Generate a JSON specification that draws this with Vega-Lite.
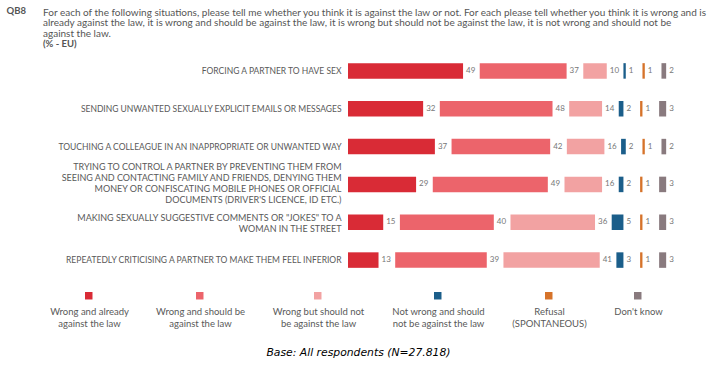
{
  "$schema": "https://vega.github.io/schema/vega-lite/v6.json",
  "width": 371,
  "height": 227,
  "autosize": {"type": "none"},
  "padding": {"left": 348, "top": 52, "right": 0, "bottom": 94},
  "background": "white",
  "config": {
    "font": "Lato",
    "view": {"stroke": null},
    "title": {"font": "Lato"}
  },
  "title": {
    "text": [
      "For each of the following situations, please tell me whether you think it is against the law or not. For each please tell whether you think it is wrong and is",
      "already against the law, it is wrong and should be against the law, it is wrong but should not be against the law, it is not wrong and should not be",
      "against the law."
    ],
    "subtitle": "(% - EU)",
    "anchor": "start",
    "frame": "group",
    "dx": -305,
    "dy": 49,
    "offset": 6,
    "fontSize": 10,
    "fontWeight": "normal",
    "color": "#555555",
    "lineHeight": 10.5,
    "limit": 700,
    "subtitleFontSize": 9.5,
    "subtitleFontWeight": "bold",
    "subtitleColor": "#555555",
    "subtitlePadding": 0
  },
  "data": {
    "values": [
      {"item": "FORCING A PARTNER TO HAVE SEX", "category": "Wrong and already against the law", "value": 49},
      {"item": "FORCING A PARTNER TO HAVE SEX", "category": "Wrong and should be against the law", "value": 37},
      {"item": "FORCING A PARTNER TO HAVE SEX", "category": "Wrong but should not be against the law", "value": 10},
      {"item": "FORCING A PARTNER TO HAVE SEX", "category": "Not wrong and should not be against the law", "value": 1},
      {"item": "FORCING A PARTNER TO HAVE SEX", "category": "Refusal (SPONTANEOUS)", "value": 1},
      {"item": "FORCING A PARTNER TO HAVE SEX", "category": "Don't know", "value": 2},
      {"item": "SENDING UNWANTED SEXUALLY EXPLICIT EMAILS OR MESSAGES", "category": "Wrong and already against the law", "value": 32},
      {"item": "SENDING UNWANTED SEXUALLY EXPLICIT EMAILS OR MESSAGES", "category": "Wrong and should be against the law", "value": 48},
      {"item": "SENDING UNWANTED SEXUALLY EXPLICIT EMAILS OR MESSAGES", "category": "Wrong but should not be against the law", "value": 14},
      {"item": "SENDING UNWANTED SEXUALLY EXPLICIT EMAILS OR MESSAGES", "category": "Not wrong and should not be against the law", "value": 2},
      {"item": "SENDING UNWANTED SEXUALLY EXPLICIT EMAILS OR MESSAGES", "category": "Refusal (SPONTANEOUS)", "value": 1},
      {"item": "SENDING UNWANTED SEXUALLY EXPLICIT EMAILS OR MESSAGES", "category": "Don't know", "value": 3},
      {"item": "TOUCHING A COLLEAGUE IN AN INAPPROPRIATE OR UNWANTED WAY", "category": "Wrong and already against the law", "value": 37},
      {"item": "TOUCHING A COLLEAGUE IN AN INAPPROPRIATE OR UNWANTED WAY", "category": "Wrong and should be against the law", "value": 42},
      {"item": "TOUCHING A COLLEAGUE IN AN INAPPROPRIATE OR UNWANTED WAY", "category": "Wrong but should not be against the law", "value": 16},
      {"item": "TOUCHING A COLLEAGUE IN AN INAPPROPRIATE OR UNWANTED WAY", "category": "Not wrong and should not be against the law", "value": 2},
      {"item": "TOUCHING A COLLEAGUE IN AN INAPPROPRIATE OR UNWANTED WAY", "category": "Refusal (SPONTANEOUS)", "value": 1},
      {"item": "TOUCHING A COLLEAGUE IN AN INAPPROPRIATE OR UNWANTED WAY", "category": "Don't know", "value": 2},
      {"item": "TRYING TO CONTROL A PARTNER BY PREVENTING THEM FROM\nSEEING AND CONTACTING FAMILY AND FRIENDS, DENYING THEM\nMONEY OR CONFISCATING MOBILE PHONES OR OFFICIAL\nDOCUMENTS (DRIVER'S LICENCE, ID ETC.)", "category": "Wrong and already against the law", "value": 29},
      {"item": "TRYING TO CONTROL A PARTNER BY PREVENTING THEM FROM\nSEEING AND CONTACTING FAMILY AND FRIENDS, DENYING THEM\nMONEY OR CONFISCATING MOBILE PHONES OR OFFICIAL\nDOCUMENTS (DRIVER'S LICENCE, ID ETC.)", "category": "Wrong and should be against the law", "value": 49},
      {"item": "TRYING TO CONTROL A PARTNER BY PREVENTING THEM FROM\nSEEING AND CONTACTING FAMILY AND FRIENDS, DENYING THEM\nMONEY OR CONFISCATING MOBILE PHONES OR OFFICIAL\nDOCUMENTS (DRIVER'S LICENCE, ID ETC.)", "category": "Wrong but should not be against the law", "value": 16},
      {"item": "TRYING TO CONTROL A PARTNER BY PREVENTING THEM FROM\nSEEING AND CONTACTING FAMILY AND FRIENDS, DENYING THEM\nMONEY OR CONFISCATING MOBILE PHONES OR OFFICIAL\nDOCUMENTS (DRIVER'S LICENCE, ID ETC.)", "category": "Not wrong and should not be against the law", "value": 2},
      {"item": "TRYING TO CONTROL A PARTNER BY PREVENTING THEM FROM\nSEEING AND CONTACTING FAMILY AND FRIENDS, DENYING THEM\nMONEY OR CONFISCATING MOBILE PHONES OR OFFICIAL\nDOCUMENTS (DRIVER'S LICENCE, ID ETC.)", "category": "Refusal (SPONTANEOUS)", "value": 1},
      {"item": "TRYING TO CONTROL A PARTNER BY PREVENTING THEM FROM\nSEEING AND CONTACTING FAMILY AND FRIENDS, DENYING THEM\nMONEY OR CONFISCATING MOBILE PHONES OR OFFICIAL\nDOCUMENTS (DRIVER'S LICENCE, ID ETC.)", "category": "Don't know", "value": 3},
      {"item": "MAKING SEXUALLY SUGGESTIVE COMMENTS OR \"JOKES\" TO A\nWOMAN IN THE STREET", "category": "Wrong and already against the law", "value": 15},
      {"item": "MAKING SEXUALLY SUGGESTIVE COMMENTS OR \"JOKES\" TO A\nWOMAN IN THE STREET", "category": "Wrong and should be against the law", "value": 40},
      {"item": "MAKING SEXUALLY SUGGESTIVE COMMENTS OR \"JOKES\" TO A\nWOMAN IN THE STREET", "category": "Wrong but should not be against the law", "value": 36},
      {"item": "MAKING SEXUALLY SUGGESTIVE COMMENTS OR \"JOKES\" TO A\nWOMAN IN THE STREET", "category": "Not wrong and should not be against the law", "value": 5},
      {"item": "MAKING SEXUALLY SUGGESTIVE COMMENTS OR \"JOKES\" TO A\nWOMAN IN THE STREET", "category": "Refusal (SPONTANEOUS)", "value": 1},
      {"item": "MAKING SEXUALLY SUGGESTIVE COMMENTS OR \"JOKES\" TO A\nWOMAN IN THE STREET", "category": "Don't know", "value": 3},
      {"item": "REPEATEDLY CRITICISING A PARTNER TO MAKE THEM FEEL INFERIOR", "category": "Wrong and already against the law", "value": 13},
      {"item": "REPEATEDLY CRITICISING A PARTNER TO MAKE THEM FEEL INFERIOR", "category": "Wrong and should be against the law", "value": 39},
      {"item": "REPEATEDLY CRITICISING A PARTNER TO MAKE THEM FEEL INFERIOR", "category": "Wrong but should not be against the law", "value": 41},
      {"item": "REPEATEDLY CRITICISING A PARTNER TO MAKE THEM FEEL INFERIOR", "category": "Not wrong and should not be against the law", "value": 3},
      {"item": "REPEATEDLY CRITICISING A PARTNER TO MAKE THEM FEEL INFERIOR", "category": "Refusal (SPONTANEOUS)", "value": 1},
      {"item": "REPEATEDLY CRITICISING A PARTNER TO MAKE THEM FEEL INFERIOR", "category": "Don't know", "value": 3}
    ]
  },
  "transform": [
    {"calculate": "indexof(['Wrong and already against the law', 'Wrong and should be against the law', 'Wrong but should not be against the law', 'Not wrong and should not be against the law', 'Refusal (SPONTANEOUS)', \"Don't know\"], datum.category)", "as": "idx"},
    {"window": [{"op": "sum", "field": "value", "as": "cum"}], "groupby": ["item"], "sort": [{"field": "idx"}], "frame": [null, 0]},
    {"calculate": "datum.cum - datum.value + datum.idx * 7.1", "as": "x0"},
    {"calculate": "datum.cum + datum.idx * 7.1", "as": "x1"}
  ],
  "encoding": {
    "y": {
      "field": "item",
      "type": "nominal",
      "sort": null,
      "scale": {"paddingInner": 0.59, "paddingOuter": 0.295},
      "axis": {
        "title": "QB8",
        "titleAngle": 0,
        "titleAlign": "left",
        "titleBaseline": "middle",
        "titleX": -342,
        "titleY": -42,
        "titleFontSize": 9.5,
        "titleFontWeight": "bold",
        "titleColor": "#555555",
        "domain": false,
        "ticks": false,
        "grid": false,
        "labelPadding": 7,
        "labelFontSize": {"condition": {"test": "indexof(datum.value, '\\n') >= 0", "value": 9}, "value": 8.5},
        "labelOffset": {"condition": [{"test": "indexof(datum.value, 'TRYING') === 0", "value": -17}, {"test": "indexof(datum.value, 'MAKING') === 0", "value": -4}], "value": 0},
        "labelColor": "#595959",
        "labelLimit": 340,
        "labelLineHeight": 11,
        "labelExpr": "split(datum.label, '\\n')"
      }
    }
  },
  "layer": [
    {
      "mark": {"type": "bar"},
      "encoding": {
        "x": {
          "field": "x0",
          "type": "quantitative",
          "scale": {"domain": [0, 158], "nice": false, "zero": false},
          "axis": {
            "title": "Base: All respondents (N=27.818)",
            "titleX": 10,
            "titleY": 73,
            "titleAlign": "center",
            "titleBaseline": "middle",
            "titleFont": "DejaVu Sans",
            "titleFontStyle": "italic",
            "titleFontWeight": "normal",
            "titleFontSize": 10.8,
            "titleColor": "#000000",
            "labels": false,
            "ticks": false,
            "domain": false,
            "grid": false
          }
        },
        "x2": {"field": "x1"},
        "color": {
          "field": "category",
          "type": "nominal",
          "scale": {
            "domain": ["Wrong and already against the law", "Wrong and should be against the law", "Wrong but should not be against the law", "Not wrong and should not be against the law", "Refusal (SPONTANEOUS)", "Don't know"],
            "range": ["#D92B36", "#EC646B", "#F2A2A2", "#1B5E8A", "#D6732A", "#897A7E"]
          },
          "legend": {
            "title": null,
            "orient": "none",
            "legendX": -264,
            "legendY": 239,
            "direction": "horizontal",
            "columns": 6,
            "gridAlign": "none",
            "columnPadding": 27,
            "padding": 0,
            "symbolType": "square",
            "symbolSize": 56,
            "symbolStrokeWidth": 0,
            "symbolOpacity": 1,
            "labelAlign": "center",
            "labelBaseline": "top",
            "labelOffset": -4,
            "labelFontSize": 9.5,
            "labelLineHeight": 13,
            "labelColor": "#595959",
            "labelLimit": 200,
            "labelExpr": "({'Wrong and already against the law': ['', 'Wrong and already', 'against the law'], 'Wrong and should be against the law': ['', 'Wrong and should be', 'against the law'], 'Wrong but should not be against the law': ['', 'Wrong but should not', 'be against the law'], 'Not wrong and should not be against the law': ['', 'Not wrong and should', 'not be against the law'], 'Refusal (SPONTANEOUS)': ['', 'Refusal', '(SPONTANEOUS)'], \"Don't know\": ['', \"Don't know\"]})[datum.label]"
          }
        }
      }
    },
    {
      "mark": {"type": "text", "align": "left", "baseline": "middle", "dx": 3, "fontSize": 8, "color": "#777777"},
      "encoding": {
        "x": {"field": "x1", "type": "quantitative"},
        "text": {"field": "value", "type": "quantitative"}
      }
    }
  ]
}
